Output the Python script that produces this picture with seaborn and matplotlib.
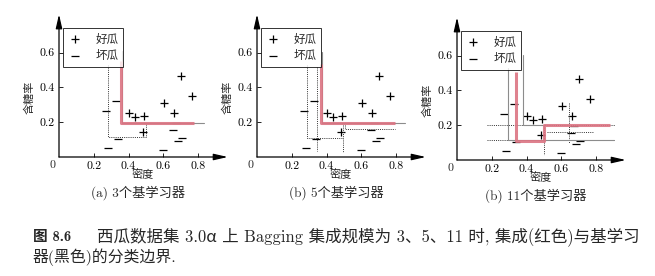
import matplotlib
matplotlib.use("Agg")
import matplotlib.pyplot as plt
import seaborn as sns
import pandas as pd

# ---- data ----
good_density = [0.40, 0.435, 0.49, 0.48, 0.605, 0.66, 0.70, 0.765]
good_sugar = [0.255, 0.23, 0.235, 0.145, 0.31, 0.255, 0.465, 0.35]
bad_density = [0.27, 0.33, 0.28, 0.34, 0.597, 0.653, 0.67, 0.683, 0.707]
bad_sugar = [0.263, 0.323, 0.053, 0.105, 0.038, 0.154, 0.196, 0.093, 0.11]

panel_titles = ["(a) 3个基学习器", "(b) 5个基学习器", "(b) 11个基学习器"]
legend_labels = ["好瓜", "坏瓜"]
x_label = "密度"
y_label = "含糖率"
x_ticks = [0.2, 0.4, 0.6, 0.8]
x_tick_labels = ["0.2", "0.4", "0.6", "0.8"]
y_ticks = [0.2, 0.4, 0.6]
y_tick_labels = ["0.2", "0.4", "0.6"]

# decision boundaries (x list, y list)
ensemble_a = ([0.357, 0.357, 0.774], [0.55, 0.195, 0.195])
solid_a = [([0.362, 0.362, 0.836], [0.607, 0.195, 0.195])]
dotted_a = [([0.279, 0.279, 0.50, 0.50], [0.53, 0.113, 0.113, 0.194])]

ensemble_b = ([0.368, 0.368, 0.793], [0.534, 0.193, 0.193])
solid_b = [([0.372, 0.372, 0.85], [0.605, 0.193, 0.193])]
dotted_b = [([0.29, 0.29, 0.496], [0.53, 0.11, 0.11]),
            ([0.343, 0.343], [0.515, 0.035]),
            ([0.496, 0.496], [0.184, 0.03]),
            ([0.506, 0.506, 0.793], [0.184, 0.159, 0.159])]

ensemble_c = ([0.339, 0.339, 0.502, 0.502, 0.879], [0.508, 0.109, 0.109, 0.199, 0.199])
solid_c = [([0.295, 0.295, 0.90], [0.527, 0.115, 0.115]),
           ([0.381, 0.381, 0.50], [0.603, 0.199, 0.199])]
dotted_c = [([0.174, 0.908], [0.199, 0.199]),
            ([0.174, 0.90], [0.115, 0.115]),
            ([0.502, 0.502], [0.199, 0.03]),
            ([0.646, 0.646], [0.326, 0.096]),
            ([0.515, 0.784], [0.163, 0.163])]

panels = [(ensemble_a, solid_a, dotted_a),
          (ensemble_b, solid_b, dotted_b),
          (ensemble_c, solid_c, dotted_c)]
origins = [(59, 157), (257, 157), (457, 160)]

caption_head = "图 8.6"
caption_line1 = "西瓜数据集 3.0α 上 Bagging 集成规模为 3、5、11 时, 集成(红色)与基学习"
caption_line2 = "器(黑色)的分类边界."

# ---- style ----
sns.set_theme(style="white")
plt.rcParams["font.family"] = ["cmr10", "Noto Sans CJK SC", "DejaVu Sans"]
plt.rcParams["axes.formatter.use_mathtext"] = True
CJK = ["Noto Sans CJK SC", "DejaVu Sans"]
SERIF = ["cmr10", "Noto Sans CJK SC", "DejaVu Serif"]

W, H = 655, 276
fig = plt.figure(figsize=(W / 100, H / 100), dpi=100)
fig.patch.set_facecolor("white")

SCALE = 174.0  # px per data unit
XMAX, YMAX = 1.0, 0.85

good_df = pd.DataFrame({"density": good_density, "sugar": good_sugar})
bad_df = pd.DataFrame({"density": bad_density, "sugar": bad_sugar})

for i, ((ens, solids, dots), (ox, oy)) in enumerate(zip(panels, origins)):
    ax = fig.add_axes([ox / W, (H - oy) / H, SCALE * XMAX / W, SCALE * YMAX / H])
    ax.set_facecolor("none")
    for s in ax.spines.values():
        s.set_visible(False)
    ax.set_xlim(0, XMAX)
    ax.set_ylim(0, YMAX)

    # axes arrows
    ax.annotate("", xy=(0.97, 0), xytext=(0, 0),
                arrowprops=dict(arrowstyle="-|>,head_length=0.7,head_width=0.16",
                                color="black", lw=0.9, shrinkA=0, shrinkB=0),
                annotation_clip=False)
    ax.annotate("", xy=(0, 0.82), xytext=(0, 0),
                arrowprops=dict(arrowstyle="-|>,head_length=0.7,head_width=0.16",
                                color="black", lw=0.9, shrinkA=0, shrinkB=0),
                annotation_clip=False)

    # base learners
    for xs, ys in dots:
        ax.plot(xs, ys, color="#333333", lw=0.7, linestyle=(0, (1, 1.2)))
    for xs, ys in solids:
        ax.plot(xs, ys, color="#8c8c8c", lw=0.8)
    # ensemble
    ax.plot(ens[0], ens[1], color="#dc7483", lw=2.2, alpha=0.9, solid_capstyle="butt")

    sns.scatterplot(data=good_df, x="density", y="sugar", marker="+", s=30,
                    color="black", linewidth=0.9, label=legend_labels[0], ax=ax)
    sns.scatterplot(data=bad_df, x="density", y="sugar", marker="_", s=30,
                    color="black", linewidth=0.9, label=legend_labels[1], ax=ax)

    ax.set_xticks(x_ticks)
    ax.set_xticklabels(x_tick_labels, family=SERIF, fontsize=8.5)
    ax.set_yticks(y_ticks)
    ax.set_yticklabels(y_tick_labels, family=SERIF, fontsize=8.5)
    ax.tick_params(axis="both", direction="in", length=3, width=0.6, colors="black",
                   pad=3, bottom=True, left=True)
    ax.text(-0.02, -0.02, "0", ha="right", va="top", family=SERIF, fontsize=8.5)

    ax.set_xlabel(x_label, family=CJK, fontsize=8)
    ax.xaxis.set_label_coords(0.48 / XMAX, -18 / (SCALE * YMAX))
    ax.xaxis.label.set_va("center")
    ax.set_ylabel(y_label, family=CJK, fontsize=8)
    ax.yaxis.set_label_coords(-30 / (SCALE * XMAX), 0.345 / YMAX)
    ax.yaxis.label.set_va("center")

    ax.text(0.455, -36 / SCALE, panel_titles[i], ha="center", va="center",
            family=SERIF, fontsize=9.5, clip_on=False)

    leg = ax.legend(loc="upper left", bbox_to_anchor=(0.023 / XMAX, 0.742 / YMAX),
                    borderaxespad=0, frameon=True, fancybox=False, edgecolor="black",
                    prop={"family": CJK, "size": 8.3}, handlelength=1.2,
                    handletextpad=1.2, borderpad=0.4, labelspacing=0.3,
                    markerscale=1.0)
    leg.get_frame().set_linewidth(0.7)

# caption
fig.text(33 / W, 1 - 237 / H, caption_head, ha="left", va="center",
         family=["cmb10", "Noto Sans CJK SC"], fontweight="bold", fontsize=10.5)
fig.text(97 / W, 1 - 237 / H, caption_line1, ha="left", va="center",
         family=SERIF, fontsize=11.9)
fig.text(33 / W, 1 - 257 / H, caption_line2, ha="left", va="center",
         family=SERIF, fontsize=11.4)

fig.savefig("out.png", dpi=100, facecolor="white")
